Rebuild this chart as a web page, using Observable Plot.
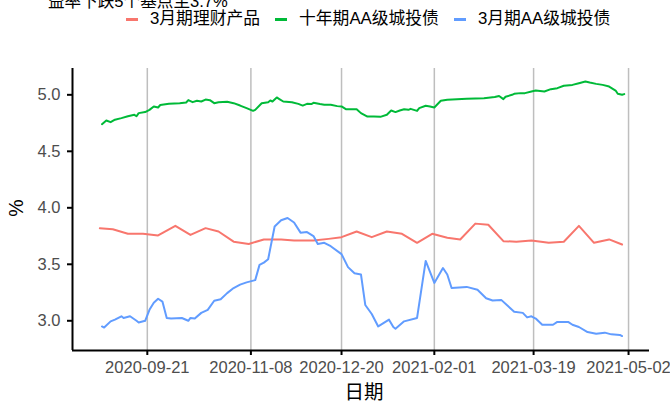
<!DOCTYPE html>
<html>
<head>
<meta charset="utf-8">
<script src="https://cdn.jsdelivr.net/npm/d3@7"></script>
<script src="https://cdn.jsdelivr.net/npm/@observablehq/plot@0.6"></script>
<style>
  body { margin: 0; background: #fff; }
  #wrap { position: relative; width: 670px; height: 403px; overflow: hidden; background: #fff;
          font-family: "Liberation Sans", "Noto Sans CJK SC", sans-serif; }
  #wrap svg { position: absolute; left: 0; top: 0; }
  .abs { position: absolute; line-height: 1; white-space: nowrap; }
  #legend { display: flex; align-items: center; font-size: 16.8px; color: #000; }
  .key { width: 12px; height: 2.5px; margin-right: 12px; }
  .item { display: flex; align-items: center; margin-right: 15px; }
</style>
</head>
<body>
<div id="wrap">
  <div id="chart"></div>
  <div class="abs" id="title" style="left:48px; top:-6px; font-size:16.6px; color:#000;"></div>
  <div class="abs" id="legend" style="left:126px; top:11px;"></div>
  <div class="abs" id="ylab" style="left:16.5px; top:208px; font-size:19.5px; color:#000; transform: translate(-50%,-50%) rotate(-90deg);"></div>
  <div class="abs" id="xlab" style="left:364px; top:383px; font-size:19.5px; color:#000; transform: translateX(-50%);"></div>
</div>
<script>
const titleText = "益率下跌5个基点至3.7%";
const xLabel = "日期";
const yLabel = "%";
const seriesNames = ["3月期理财产品", "十年期AA级城投债", "3月期AA级城投债"];
const seriesColors = ["#F8766D", "#00BA38", "#619CFF"];

const xTicks = ["2020-09-21", "2020-11-08", "2020-12-20", "2021-02-01", "2021-03-19", "2021-05-02"];
const yTicks = [3.0, 3.5, 4.0, 4.5, 5.0];

// 3月期理财产品
const wmpDates = ["2020-08-30","2020-09-05","2020-09-12","2020-09-19","2020-09-26","2020-10-04","2020-10-11","2020-10-18","2020-10-24","2020-10-31","2020-11-07","2020-11-14","2020-11-22","2020-11-28","2020-12-07","2020-12-14","2020-12-20","2020-12-27","2021-01-03","2021-01-10","2021-01-17","2021-01-24","2021-01-31","2021-02-07","2021-02-13","2021-02-20","2021-02-26","2021-03-05","2021-03-11","2021-03-18","2021-03-26","2021-04-02","2021-04-09","2021-04-16","2021-04-23","2021-04-29"];
const wmpValues = [3.82,3.81,3.77,3.77,3.755,3.84,3.76,3.82,3.79,3.70,3.68,3.72,3.72,3.71,3.71,3.725,3.74,3.79,3.74,3.79,3.77,3.69,3.77,3.735,3.72,3.86,3.85,3.705,3.70,3.71,3.69,3.70,3.84,3.69,3.72,3.675];

// 十年期AA级城投债
const tenYDates = ["2020-08-31","2020-09-02","2020-09-04","2020-09-06","2020-09-09","2020-09-12","2020-09-15","2020-09-16","2020-09-17","2020-09-20","2020-09-22","2020-09-24","2020-09-26","2020-09-27","2020-10-01","2020-10-06","2020-10-09","2020-10-10","2020-10-12","2020-10-14","2020-10-16","2020-10-18","2020-10-20","2020-10-22","2020-10-24","2020-10-28","2020-10-31","2020-11-03","2020-11-06","2020-11-09","2020-11-10","2020-11-13","2020-11-16","2020-11-17","2020-11-18","2020-11-20","2020-11-21","2020-11-23","2020-11-27","2020-11-30","2020-12-02","2020-12-04","2020-12-06","2020-12-07","2020-12-10","2020-12-12","2020-12-15","2020-12-18","2020-12-20","2020-12-22","2020-12-27","2020-12-29","2021-01-01","2021-01-04","2021-01-07","2021-01-10","2021-01-12","2021-01-14","2021-01-16","2021-01-18","2021-01-20","2021-01-21","2021-01-24","2021-01-25","2021-01-28","2021-01-30","2021-02-01","2021-02-04","2021-02-07","2021-02-16","2021-02-24","2021-03-01","2021-03-03","2021-03-05","2021-03-06","2021-03-09","2021-03-10","2021-03-13","2021-03-15","2021-03-18","2021-03-20","2021-03-24","2021-03-27","2021-03-30","2021-04-02","2021-04-06","2021-04-09","2021-04-12","2021-04-14","2021-04-17","2021-04-20","2021-04-23","2021-04-26","2021-04-27","2021-04-29","2021-04-30"];
const tenYValues = [4.74,4.773,4.758,4.78,4.794,4.81,4.823,4.81,4.838,4.847,4.867,4.897,4.888,4.91,4.92,4.926,4.932,4.953,4.935,4.947,4.941,4.958,4.953,4.926,4.935,4.938,4.926,4.905,4.882,4.858,4.867,4.926,4.935,4.95,4.941,4.977,4.965,4.941,4.935,4.92,4.905,4.92,4.918,4.929,4.918,4.912,4.912,4.90,4.897,4.873,4.873,4.838,4.808,4.808,4.805,4.823,4.861,4.847,4.861,4.873,4.867,4.876,4.858,4.882,4.903,4.897,4.888,4.947,4.956,4.965,4.97,4.98,4.99,4.962,4.983,5.00,5.009,5.015,5.015,5.03,5.038,5.03,5.05,5.059,5.08,5.088,5.103,5.118,5.109,5.097,5.088,5.073,5.038,5.009,5.00,5.006];

// 3月期AA级城投债
const threeMDates = ["2020-08-31","2020-09-01","2020-09-04","2020-09-06","2020-09-09","2020-09-10","2020-09-13","2020-09-16","2020-09-17","2020-09-20","2020-09-22","2020-09-24","2020-09-26","2020-09-28","2020-09-30","2020-10-02","2020-10-07","2020-10-10","2020-10-11","2020-10-13","2020-10-16","2020-10-19","2020-10-22","2020-10-25","2020-10-28","2020-10-31","2020-11-03","2020-11-06","2020-11-10","2020-11-12","2020-11-14","2020-11-16","2020-11-19","2020-11-22","2020-11-25","2020-11-28","2020-12-01","2020-12-04","2020-12-07","2020-12-09","2020-12-12","2020-12-15","2020-12-20","2020-12-23","2020-12-26","2020-12-29","2020-12-31","2021-01-03","2021-01-06","2021-01-11","2021-01-13","2021-01-14","2021-01-18","2021-01-24","2021-01-28","2021-02-01","2021-02-05","2021-02-07","2021-02-09","2021-02-16","2021-02-21","2021-02-25","2021-02-28","2021-03-04","2021-03-10","2021-03-14","2021-03-16","2021-03-18","2021-03-20","2021-03-23","2021-03-28","2021-03-30","2021-04-04","2021-04-06","2021-04-09","2021-04-13","2021-04-17","2021-04-21","2021-04-24","2021-04-28","2021-04-29"];
const threeMValues = [2.95,2.94,2.995,3.01,3.04,3.025,3.04,3.00,2.985,3.00,3.097,3.16,3.195,3.17,3.025,3.02,3.025,3.00,3.025,3.02,3.07,3.097,3.177,3.19,3.245,3.29,3.32,3.34,3.36,3.495,3.515,3.545,3.835,3.89,3.91,3.87,3.78,3.785,3.75,3.68,3.69,3.66,3.59,3.475,3.42,3.41,3.14,3.06,2.95,3.01,2.945,2.93,2.995,3.025,3.53,3.335,3.467,3.41,3.29,3.30,3.275,3.20,3.18,3.185,3.08,3.07,3.03,3.04,3.02,2.965,2.965,2.99,2.99,2.965,2.945,2.90,2.885,2.895,2.88,2.875,2.865];

const parse = d3.utcParse("%Y-%m-%d");
function rows(dates, values, name) {
  return dates.map((d, i) => ({date: parse(d), value: values[i], series: name}));
}
const data = [
  ...rows(wmpDates, wmpValues, seriesNames[0]),
  ...rows(tenYDates, tenYValues, seriesNames[1]),
  ...rows(threeMDates, threeMValues, seriesNames[2])
];

const xDomain = [new Date(Date.UTC(2020, 7, 17, 8)), new Date(Date.UTC(2021, 4, 11, 17))];
const yDomain = [2.737, 5.233];
const tickDates = xTicks.map(parse);
const fmt = d3.utcFormat("%Y-%m-%d");

const chart = Plot.plot({
  width: 670,
  height: 403,
  marginLeft: 72,
  marginRight: 21,
  marginTop: 68,
  marginBottom: 53,
  style: {fontFamily: '"Liberation Sans", "Noto Sans CJK SC", sans-serif', fontSize: "16.5px", color: "#4D4D4D", background: "transparent", overflow: "visible"},
  x: {type: "utc", domain: xDomain},
  y: {domain: yDomain},
  color: {domain: seriesNames, range: seriesColors},
  marks: [
    Plot.ruleX(tickDates, {stroke: "#BEBEBE", strokeWidth: 1.5}),
    Plot.line(data, {x: "date", y: "value", z: "series", stroke: "series", strokeWidth: 2}),
    Plot.axisY({ticks: yTicks, tickFormat: d => d.toFixed(1), tickSize: 5, tickPadding: 7, stroke: "#000", strokeWidth: 2, label: null}),
    Plot.axisX({ticks: tickDates, tickFormat: fmt, tickSize: 5, tickPadding: 6, stroke: "#000", strokeWidth: 2, label: null}),
    Plot.ruleX([xDomain[0]], {stroke: "#000", strokeWidth: 2}),
    Plot.ruleY([yDomain[0]], {stroke: "#000", strokeWidth: 2})
  ]
});
document.getElementById("chart").appendChild(chart);

document.getElementById("title").textContent = titleText;
document.getElementById("ylab").textContent = yLabel;
document.getElementById("xlab").textContent = xLabel;
const legend = document.getElementById("legend");
seriesNames.forEach((name, i) => {
  const item = document.createElement("div");
  item.className = "item";
  const key = document.createElement("div");
  key.className = "key";
  key.style.background = seriesColors[i];
  const label = document.createElement("span");
  label.textContent = name;
  item.appendChild(key);
  item.appendChild(label);
  legend.appendChild(item);
});
</script>
</body>
</html>
